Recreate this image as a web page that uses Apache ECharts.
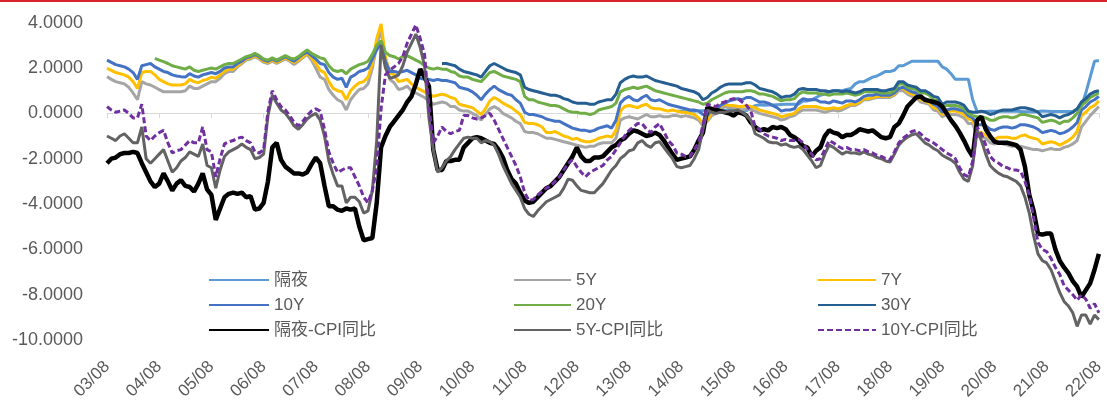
<!DOCTYPE html>
<html><head><meta charset="utf-8">
<script src="https://cdn.jsdelivr.net/npm/echarts@6/dist/echarts.min.js"></script>
<style>html,body{margin:0;padding:0;background:#fff}#c{width:1107px;height:403px}</style>
</head><body><div id="c"></div>
<script>
// Monthly observations, 2003/08 .. 2022/08 (one row per year)
const START_YEAR = 2003, START_MONTH = 8, N_MONTHS = 229;
const Y_MIN = -10, Y_MAX = 4, Y_INTERVAL = 2;

const ON = [ // 隔夜
 null,null,null,null,null,
 null,null,null,null,null,null,null,null,null,null,null,null,
 null,null,null,null,null,null,null,null,null,null,null,null,
 null,null,null,null,null,null,null,null,null,null,null,null,
 null,null,null,null,null,null,null,null,null,null,null,null,
 null,null,null,null,null,null,null,null,null,null,null,null,
 null,null,null,null,null,null,null,null,null,null,null,null,
 null,null,null,null,null,null,null,null,null,null,null,null,
 null,null,null,null,null,null,null,null,null,null,null,null,
 null,null,null,null,null,null,null,null,null,null,null,null,
 null,null,null,null,null,null,null,null,null,null,null,null,
 null,null,null,null,null,null,0.09,0.09,0.09,0.09,0.09,0.12,
 0.11,0.11,0.11,0.12,0.12,0.13,0.13,0.14,0.14,0.12,0.12,0.24,
 0.34,0.38,0.36,0.37,0.37,0.38,0.39,0.40,0.40,0.40,0.41,0.54,
 0.55,0.60,0.70,0.80,0.85,0.95,1.00,1.00,1.00,1.05,1.10,1.30,
 1.40,1.40,1.50,1.60,1.65,1.75,1.85,1.85,1.90,2.10,2.10,2.20,
 2.30,2.30,2.30,2.30,2.30,2.30,2.30,2.05,1.95,1.75,1.50,1.50,
 1.50,1.50,0.60,0.08,0.08,0.08,0.09,0.09,0.09,0.09,0.09,0.09,
 0.09,0.08,0.07,0.07,0.06,0.08,0.10,0.09,0.08,0.08,0.08,0.08,
 0.08,0.08,0.20,0.33,0.90,1.60,2.30,2.33
];
const Y5 = [
 1.62,1.50,1.40,1.35,1.30,
 1.15,0.90,0.60,1.40,1.30,1.25,1.15,1.05,0.95,0.95,0.95,0.95,
 0.95,1.00,1.20,1.10,1.10,1.20,1.30,1.40,1.40,1.55,1.75,1.85,
 1.85,2.05,2.20,2.35,2.40,2.50,2.40,2.25,2.20,2.30,2.20,2.30,
 2.40,2.30,2.15,2.30,2.45,2.60,2.35,2.00,1.60,1.50,1.05,0.80,
 0.60,0.50,0.15,0.60,0.85,1.05,1.10,1.30,2.00,3.00,3.70,2.30,
 1.50,1.35,1.05,1.10,1.20,1.00,0.90,0.80,0.70,0.55,0.40,0.45,
 0.50,0.45,0.30,0.30,0.15,0.10,0.10,0.00,-0.10,-0.30,-0.05,0.20,
 0.30,0.20,0.00,-0.10,-0.20,-0.35,-0.45,-0.80,-0.85,-0.85,-0.90,-1.00,
 -1.10,-1.10,-1.15,-1.20,-1.25,-1.30,-1.35,-1.40,-1.45,-1.50,-1.45,-1.45,
 -1.35,-1.30,-1.30,-1.30,-1.10,-0.30,-0.20,-0.15,-0.20,-0.25,-0.15,-0.05,
 -0.15,-0.15,-0.10,-0.15,-0.15,-0.10,-0.10,-0.15,-0.10,-0.15,-0.20,-0.30,
 -0.55,-0.35,-0.10,0.00,0.15,0.30,0.25,0.25,0.20,0.15,0.20,0.15,
 0.10,0.00,-0.05,-0.10,-0.15,-0.20,-0.30,-0.25,-0.15,-0.10,0.05,0.15,
 0.15,0.15,0.15,0.10,0.05,0.10,0.15,0.10,0.15,0.25,0.35,0.35,
 0.45,0.60,0.60,0.65,0.70,0.70,0.70,0.70,0.80,1.00,1.00,0.85,
 0.75,0.70,0.50,0.45,0.40,0.15,0.10,-0.15,-0.05,-0.05,-0.05,-0.10,
 -0.20,-0.45,-0.45,-1.00,-1.05,-1.10,-1.30,-1.35,-1.30,-1.35,-1.40,-1.45,
 -1.45,-1.45,-1.50,-1.55,-1.60,-1.60,-1.65,-1.60,-1.55,-1.60,-1.60,-1.50,
 -1.45,-1.35,-1.20,-0.60,-0.35,-0.10,0.10,0.30
];
const Y7 = [
 1.99,1.90,1.80,1.75,1.70,
 1.60,1.40,1.10,1.80,1.85,1.85,1.70,1.50,1.40,1.30,1.25,1.25,
 1.25,1.30,1.50,1.40,1.35,1.45,1.50,1.60,1.55,1.70,1.85,1.95,
 1.95,2.10,2.25,2.40,2.45,2.55,2.45,2.30,2.25,2.35,2.25,2.35,
 2.45,2.35,2.25,2.35,2.50,2.65,2.45,2.20,1.90,1.80,1.40,1.10,
 1.00,0.95,0.60,1.00,1.20,1.35,1.40,1.60,2.20,3.30,3.95,2.50,
 1.80,1.70,1.40,1.45,1.50,1.30,1.15,1.05,0.95,0.85,0.75,0.80,
 0.85,0.80,0.70,0.65,0.40,0.35,0.30,0.25,0.10,-0.05,0.20,0.55,
 0.70,0.60,0.45,0.35,0.25,0.10,-0.05,-0.40,-0.45,-0.45,-0.50,-0.60,
 -0.85,-0.85,-0.80,-0.90,-1.00,-1.05,-1.15,-1.10,-1.20,-1.25,-1.25,-1.20,
 -1.10,-1.05,-1.00,-1.05,-0.75,0.10,0.30,0.35,0.30,0.25,0.35,0.40,
 0.25,0.20,0.20,0.15,0.10,0.15,0.10,0.05,0.05,0.00,-0.05,-0.20,
 -0.45,-0.30,0.05,0.15,0.30,0.40,0.35,0.35,0.30,0.30,0.35,0.30,
 0.25,0.15,0.10,0.05,0.00,-0.05,-0.15,-0.10,-0.05,0.00,0.20,0.30,
 0.30,0.30,0.30,0.25,0.20,0.20,0.25,0.20,0.25,0.35,0.40,0.40,
 0.50,0.65,0.65,0.70,0.75,0.75,0.75,0.75,0.85,1.10,1.10,0.95,
 0.85,0.80,0.60,0.55,0.45,0.25,0.20,-0.05,0.05,0.10,0.10,0.05,
 -0.05,-0.25,-0.30,-0.80,-0.85,-0.95,-1.10,-1.15,-1.05,-1.05,-1.05,-1.10,
 -1.10,-1.00,-0.95,-1.05,-1.10,-1.15,-1.35,-1.30,-1.25,-1.30,-1.40,-1.30,
 -1.20,-1.05,-0.80,-0.10,0.05,0.25,0.35,0.55
];
const Y10 = [
 2.35,2.25,2.15,2.10,2.05,
 1.95,1.80,1.50,2.10,2.15,2.20,2.05,1.95,1.85,1.80,1.70,1.65,
 1.62,1.60,1.75,1.65,1.60,1.70,1.75,1.80,1.75,1.85,2.00,2.05,
 2.05,2.20,2.30,2.45,2.50,2.60,2.50,2.35,2.30,2.40,2.30,2.40,
 2.50,2.40,2.30,2.45,2.60,2.70,2.55,2.40,2.20,2.15,1.80,1.60,
 1.50,1.55,1.15,1.60,1.70,1.85,1.90,2.00,2.40,2.80,3.10,2.30,
 1.85,1.85,1.80,1.85,1.90,1.80,1.70,1.55,1.50,1.50,1.45,1.50,
 1.45,1.45,1.40,1.35,1.15,1.10,1.05,0.95,0.80,0.60,0.85,1.05,
 1.20,1.05,0.95,0.85,0.80,0.60,0.45,0.05,-0.05,-0.05,-0.10,-0.15,
 -0.25,-0.30,-0.35,-0.35,-0.45,-0.55,-0.65,-0.70,-0.75,-0.75,-0.80,-0.75,
 -0.65,-0.60,-0.55,-0.65,-0.30,0.45,0.65,0.75,0.60,0.55,0.70,0.80,
 0.60,0.55,0.60,0.50,0.40,0.35,0.30,0.25,0.20,0.15,0.15,0.10,
 -0.05,-0.10,0.15,0.10,0.35,0.45,0.55,0.60,0.65,0.60,0.70,0.70,
 0.60,0.50,0.50,0.45,0.35,0.25,0.10,0.15,0.15,0.20,0.50,0.65,
 0.60,0.60,0.60,0.50,0.50,0.45,0.55,0.50,0.45,0.55,0.55,0.50,
 0.60,0.75,0.80,0.80,0.85,0.80,0.80,0.80,0.90,1.10,1.15,1.05,
 0.95,0.90,0.70,0.65,0.55,0.40,0.30,0.05,0.15,0.20,0.20,0.15,
 0.10,-0.10,-0.20,-0.50,-0.50,-0.55,-0.70,-0.75,-0.65,-0.60,-0.60,-0.65,
 -0.60,-0.50,-0.50,-0.55,-0.60,-0.70,-0.85,-0.80,-0.75,-0.80,-0.90,-0.85,
 -0.75,-0.60,-0.40,0.15,0.30,0.50,0.60,0.75
];
const Y20 = [
 null,null,null,null,null,
 null,null,null,null,null,null,2.43,2.35,2.28,2.20,2.10,2.05,
 2.00,1.95,2.05,1.90,1.85,1.90,1.95,2.00,1.95,2.05,2.15,2.20,
 2.20,2.30,2.40,2.50,2.55,2.65,2.55,2.40,2.35,2.45,2.35,2.45,
 2.55,2.45,2.40,2.50,2.65,2.80,2.65,2.55,2.45,2.40,2.10,1.90,
 1.85,1.90,1.75,1.95,2.05,2.15,2.20,2.30,2.60,3.00,3.20,2.70,
 2.55,2.50,2.40,2.50,2.55,2.45,2.35,2.25,2.10,2.00,1.95,2.00,
 1.95,1.95,1.85,1.80,1.65,1.60,1.60,1.50,1.45,1.40,1.60,1.80,
 1.85,1.75,1.65,1.60,1.55,1.50,1.40,0.75,0.60,0.60,0.50,0.45,
 0.40,0.35,0.35,0.30,0.20,0.10,0.05,0.05,0.00,0.00,-0.05,0.00,
 0.15,0.20,0.25,0.30,0.45,0.95,1.05,1.10,1.15,1.10,1.15,1.20,
 1.10,1.00,0.95,0.90,0.85,0.80,0.75,0.70,0.65,0.60,0.55,0.50,
 0.40,0.45,0.60,0.70,0.80,0.90,0.95,0.95,0.95,0.95,1.00,1.00,
 0.95,0.85,0.85,0.80,0.75,0.65,0.55,0.60,0.60,0.65,0.85,0.95,
 0.90,0.90,0.90,0.85,0.85,0.80,0.85,0.85,0.85,0.90,0.85,0.80,
 0.85,0.95,0.95,0.95,0.95,0.90,0.90,0.90,1.00,1.30,1.30,1.15,
 1.10,1.05,0.90,0.90,0.80,0.60,0.55,0.25,0.35,0.35,0.35,0.30,
 0.20,0.00,-0.10,-0.15,-0.15,-0.20,-0.30,-0.30,-0.20,-0.15,-0.15,-0.20,
 -0.15,-0.05,-0.05,-0.10,-0.15,-0.20,-0.40,-0.35,-0.30,-0.35,-0.45,-0.35,
 -0.35,-0.20,0.00,0.35,0.50,0.70,0.80,0.90
];
const Y30 = [
 null,null,null,null,null,
 null,null,null,null,null,null,null,null,null,null,null,null,
 null,null,null,null,null,null,null,null,null,null,null,null,
 null,null,null,null,null,null,null,null,null,null,null,null,
 null,null,null,null,null,null,null,null,null,null,null,null,
 null,null,null,null,null,null,null,null,null,null,null,null,
 null,null,null,null,null,null,null,null,null,null,null,null,
 2.20,2.20,2.15,2.10,1.95,1.85,1.80,1.75,1.70,1.60,1.85,2.10,
 2.20,2.10,2.00,1.90,1.85,1.80,1.70,1.15,1.05,1.00,0.95,0.90,
 0.85,0.80,0.80,0.75,0.65,0.60,0.50,0.45,0.45,0.45,0.40,0.40,
 0.50,0.55,0.60,0.60,0.85,1.35,1.50,1.60,1.65,1.60,1.60,1.65,
 1.55,1.45,1.40,1.35,1.30,1.25,1.20,1.10,1.05,1.00,0.95,0.85,
 0.60,0.70,0.90,1.00,1.15,1.25,1.30,1.30,1.30,1.30,1.35,1.35,
 1.25,1.10,1.05,1.00,0.95,0.85,0.70,0.75,0.75,0.85,1.05,1.10,
 1.05,1.05,1.05,1.00,1.00,0.95,1.00,1.00,0.95,1.00,0.95,0.90,
 0.95,1.05,1.05,1.05,1.05,1.00,1.00,1.05,1.10,1.40,1.40,1.25,
 1.20,1.15,1.00,1.00,0.90,0.75,0.70,0.40,0.50,0.50,0.50,0.45,
 0.35,0.10,0.05,0.05,0.10,0.05,-0.05,0.00,0.10,0.15,0.15,0.15,
 0.20,0.25,0.25,0.20,0.15,0.05,-0.15,-0.10,-0.05,-0.10,-0.20,-0.10,
 -0.05,0.05,0.20,0.50,0.65,0.85,0.95,1.00
];
const ON_CPI = [ // 隔夜-CPI同比
 -2.20,-2.00,-1.95,-1.80,-1.75,
 -1.75,-1.70,-1.75,-2.20,-2.60,-3.00,-3.25,-3.10,-2.65,-3.00,-3.40,-3.10,
 -2.95,-3.20,-3.25,-3.45,-3.10,-2.65,-3.35,-3.60,-4.70,-4.20,-3.70,-3.55,
 -3.50,-3.55,-3.50,-3.70,-3.65,-4.25,-4.20,-3.95,-3.00,-1.50,-1.30,-2.05,
 -2.35,-2.50,-2.65,-2.65,-2.70,-2.60,-2.25,-1.95,-2.20,-3.20,-4.10,-4.10,
 -4.25,-4.30,-4.20,-4.25,-4.20,-5.00,-5.60,-5.55,-5.50,-3.95,-1.50,-1.00,
 -0.60,-0.35,-0.10,0.15,0.50,0.75,1.30,1.95,1.60,1.20,-1.60,-2.50,
 -2.50,-2.10,-2.10,-2.05,-2.05,-1.50,-1.30,-1.10,-1.05,-1.10,-1.20,-1.30,
 -1.35,-1.60,-1.95,-2.50,-2.90,-3.10,-3.50,-3.85,-3.95,-3.90,-3.70,-3.50,
 -3.30,-3.20,-3.00,-2.80,-2.50,-2.20,-1.90,-1.50,-1.90,-2.10,-2.10,-1.95,
 -1.95,-1.90,-1.70,-1.50,-1.40,-1.20,-1.10,-0.90,-0.75,-0.80,-0.90,-1.00,
 -0.95,-0.85,-0.95,-1.20,-1.50,-1.80,-2.05,-2.00,-1.95,-1.90,-1.60,-1.20,
 -0.85,0.25,0.20,0.15,0.10,0.05,0.00,-0.10,0.05,0.00,-0.10,-0.40,
 -0.60,-0.75,-0.70,-0.75,-0.60,-0.65,-0.60,-0.70,-0.95,-1.05,-1.20,-1.45,
 -1.50,-1.90,-1.65,-1.50,-1.00,-0.75,-0.85,-0.90,-1.05,-0.95,-0.95,-0.85,
 -0.70,-0.75,-0.80,-0.75,-0.90,-1.05,-1.10,-1.05,-0.60,-0.45,-0.10,0.30,
 0.50,0.70,0.75,0.60,0.55,0.50,0.45,0.30,0.00,-0.30,-0.55,-0.85,
 -1.20,-1.60,-1.90,-0.30,-0.15,-0.70,-1.00,-1.25,-1.30,-1.30,-1.30,-1.35,
 -1.40,-1.60,-2.35,-3.60,-4.30,-5.30,-5.35,-5.30,-5.30,-6.00,-6.50,-6.80,
 -7.05,-7.40,-7.65,-8.10,-7.80,-7.50,-6.90,-6.20
];
const Y5_CPI = [ // 5Y-CPI同比
 -1.00,-1.10,-1.20,-1.00,-0.90,
 -1.10,-1.30,-1.30,-0.60,-2.00,-2.20,-2.00,-1.80,-1.60,-2.10,-2.60,-2.40,
 -2.10,-1.95,-1.70,-1.80,-1.90,-1.35,-2.30,-2.40,-3.30,-2.50,-1.90,-1.70,
 -1.60,-1.50,-1.35,-1.50,-1.60,-2.00,-1.95,-1.80,-0.10,0.80,0.45,0.15,
 0.00,-0.25,-0.55,-0.70,-0.50,-0.25,-0.10,0.00,-0.30,-1.00,-2.10,-2.70,
 -3.20,-3.20,-3.95,-3.70,-3.70,-3.90,-4.40,-4.30,-3.40,-1.20,3.00,2.00,
 1.55,1.60,1.70,2.10,2.70,3.10,3.50,2.90,2.10,-0.20,-1.60,-2.60,
 -2.40,-2.10,-1.90,-1.60,-1.35,-1.10,-1.05,-1.10,-1.10,-1.30,-1.20,-1.25,
 -1.40,-1.80,-2.30,-2.70,-3.10,-3.40,-3.70,-4.20,-4.45,-4.55,-4.30,-4.10,
 -3.90,-3.80,-3.70,-3.60,-3.30,-2.90,-2.95,-3.20,-3.40,-3.45,-3.50,-3.50,
 -3.30,-3.10,-2.80,-2.50,-2.30,-2.00,-1.85,-1.65,-1.60,-1.30,-1.20,-1.40,
 -1.50,-1.30,-1.25,-1.50,-1.75,-2.00,-2.35,-2.40,-2.35,-2.30,-2.00,-1.60,
 -0.70,0.15,0.05,0.00,0.05,0.05,0.10,0.10,0.15,0.05,-0.10,-0.30,
 -0.90,-1.00,-1.10,-1.25,-1.30,-1.30,-1.40,-1.35,-1.45,-1.50,-1.45,-1.60,
 -1.85,-2.10,-2.40,-2.30,-1.80,-1.40,-1.50,-1.65,-1.80,-1.70,-1.75,-1.75,
 -1.80,-1.70,-1.80,-1.85,-1.95,-2.00,-2.10,-2.15,-1.80,-1.40,-1.20,-1.05,
 -0.95,-0.90,-1.10,-1.30,-1.40,-1.55,-1.65,-1.85,-1.95,-2.05,-2.20,-2.60,
 -2.90,-3.00,-2.30,-0.75,-1.20,-1.80,-2.30,-2.50,-2.65,-2.75,-2.80,-2.90,
 -3.00,-3.20,-3.70,-4.40,-5.40,-6.20,-6.50,-6.60,-6.90,-7.40,-7.90,-8.30,
 -8.50,-8.80,-9.40,-8.90,-8.90,-9.30,-8.90,-9.10
];
const Y10_CPI = [ // 10Y-CPI同比
 0.30,0.15,0.05,0.10,0.15,
 0.00,-0.20,-0.20,0.40,-1.00,-1.20,-1.00,-0.85,-0.75,-1.30,-1.75,-1.65,
 -1.60,-1.40,-1.20,-1.30,-1.30,-0.60,-1.60,-1.70,-2.80,-2.00,-1.35,-1.25,
 -1.20,-1.10,-1.05,-1.20,-1.30,-1.70,-1.75,-1.60,0.10,1.00,0.60,0.30,
 0.15,-0.10,-0.40,-0.55,-0.35,-0.10,0.10,0.20,0.10,-0.70,-1.70,-2.20,
 -2.60,-2.50,-2.40,-2.40,-2.80,-3.20,-3.70,-3.95,-3.40,-2.40,0.20,1.70,
 1.90,2.05,2.20,2.50,3.10,3.50,3.90,3.30,2.60,0.30,-1.30,-1.00,
 -0.60,-0.80,-0.90,-0.80,-0.75,-0.10,-0.10,-0.20,-0.25,-0.20,-0.10,0.00,
 -0.30,-0.70,-1.10,-1.50,-1.90,-2.30,-2.80,-3.50,-3.85,-3.80,-3.60,-3.45,
 -3.30,-3.20,-3.00,-2.80,-2.50,-2.20,-2.05,-2.35,-2.60,-2.80,-2.60,-2.50,
 -2.40,-2.30,-2.05,-1.90,-1.60,-1.30,-1.00,-0.75,-0.60,-0.45,-0.45,-0.70,
 -0.85,-0.60,-0.45,-0.80,-1.20,-1.40,-1.75,-1.80,-1.90,-1.90,-1.60,-1.30,
 -0.50,0.40,0.35,0.30,0.45,0.50,0.60,0.65,0.65,0.50,0.35,0.10,
 -0.60,-0.70,-0.90,-1.00,-1.05,-1.10,-1.20,-1.15,-1.20,-1.20,-1.15,-1.30,
 -1.60,-1.80,-2.05,-2.00,-1.60,-1.20,-1.30,-1.45,-1.55,-1.50,-1.60,-1.60,
 -1.65,-1.60,-1.70,-1.75,-1.85,-1.90,-2.00,-2.05,-1.70,-1.30,-1.10,-0.95,
 -0.80,-0.75,-0.90,-1.10,-1.20,-1.30,-1.45,-1.60,-1.75,-1.85,-2.00,-2.40,
 -2.70,-2.80,-2.10,-0.60,-0.90,-1.40,-1.90,-2.10,-2.20,-2.35,-2.40,-2.50,
 -2.50,-2.55,-3.00,-3.60,-4.60,-5.70,-6.00,-6.10,-6.40,-6.80,-7.10,-7.60,
 -7.80,-8.00,-8.25,-8.00,-8.20,-8.60,-8.40,-8.80
];

const categories = [];
for (let i = 0; i < N_MONTHS; i++) {
  const t = START_MONTH - 1 + i;
  const yy = START_YEAR + Math.floor(t / 12), mm = t % 12 + 1;
  categories.push(String(yy % 100).padStart(2, '0') + '/' + String(mm).padStart(2, '0'));
}

const FONT = "'Liberation Sans','Noto Sans CJK SC',sans-serif";
const TXT = '#595959';

const seriesDefs = [
  {name: '隔夜', data: ON, color: '#5B9BD5', width: 3},
  {name: '5Y', data: Y5, color: '#A5A5A5', width: 3},
  {name: '7Y', data: Y7, color: '#FFC000', width: 3},
  {name: '10Y', data: Y10, color: '#4472C4', width: 3},
  {name: '20Y', data: Y20, color: '#70AD47', width: 3},
  {name: '30Y', data: Y30, color: '#255E91', width: 3},
  {name: '隔夜-CPI同比', data: ON_CPI, color: '#000000', width: 4.5},
  {name: '5Y-CPI同比', data: Y5_CPI, color: '#636363', width: 3},
  {name: '10Y-CPI同比', data: Y10_CPI, color: '#7030A0', width: 3, type: [6, 3]}
];

const legendBase = {
  orient: 'vertical', top: 271.5, padding: 0, itemHeight: 17, itemGap: 8,
  itemStyle: {opacity: 0},
  textStyle: {color: TXT, fontSize: 17, fontFamily: FONT, lineHeight: 17},
  selectedMode: false
};

const chart = echarts.init(document.getElementById('c'), null, {renderer: 'canvas'});
chart.setOption({
  animation: false,
  backgroundColor: '#ffffff',
  graphic: [{type: 'rect', shape: {x: 0, y: 0, width: 1107, height: 2}, style: {fill: '#D9232D'}, z: 100}],
  grid: {left: 107, right: 0, top: 22.7, bottom: 63, containLabel: false},
  legend: [
    Object.assign({}, legendBase, {left: 208, itemWidth: 60, data: ['隔夜', '10Y', '隔夜-CPI同比']}),
    Object.assign({}, legendBase, {left: 513, itemWidth: 57, data: ['5Y', '20Y', '5Y-CPI同比']}),
    Object.assign({}, legendBase, {left: 817, itemWidth: 58, data: ['7Y', '30Y', '10Y-CPI同比']})
  ],
  xAxis: [
    {
      type: 'category', data: categories, boundaryGap: false,
      axisLine: {onZero: true, lineStyle: {color: '#D9D9D9', width: 1}},
      axisTick: {show: true, interval: 11, length: 5, lineStyle: {color: '#D9D9D9'}},
      axisLabel: {show: false}, splitLine: {show: false}
    },
    {
      type: 'category', data: categories, boundaryGap: false, position: 'bottom',
      axisLine: {show: false, onZero: false}, axisTick: {show: false}, splitLine: {show: false},
      axisLabel: {interval: 11, rotate: 45, margin: 24, color: TXT, fontSize: 17, fontFamily: FONT}
    }
  ],
  yAxis: {
    type: 'value', min: Y_MIN, max: Y_MAX, interval: Y_INTERVAL,
    axisLine: {show: false}, axisTick: {show: false}, splitLine: {show: false},
    axisLabel: {formatter: v => v.toFixed(4), color: TXT, fontSize: 18, fontFamily: FONT, margin: 24}
  },
  series: seriesDefs.map(s => ({
    name: s.name, type: 'line', data: s.data, xAxisIndex: 0,
    symbol: 'none', showSymbol: false, connectNulls: false,
    lineStyle: {color: s.color, width: s.width, type: s.type || 'solid'},
    itemStyle: {color: s.color},
    emphasis: {disabled: true}
  }))
});
</script>
</body></html>
